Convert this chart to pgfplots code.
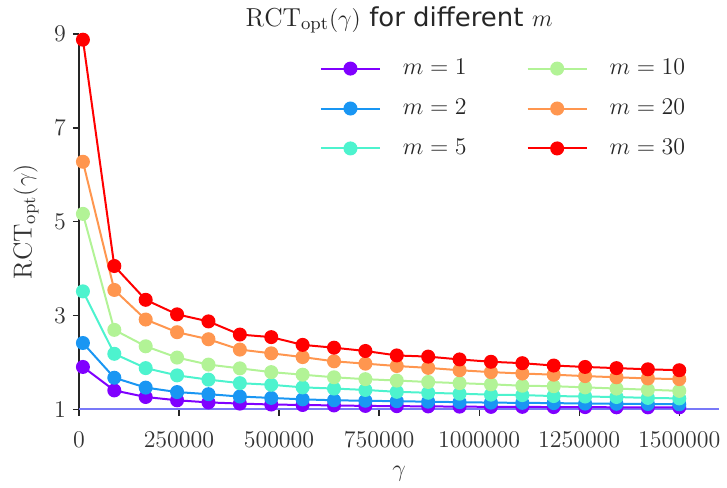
\documentclass[border=0pt]{standalone}
\usepackage{pgfplots}
\usepackage{pgfplotstable}
\usepackage{fontspec}
\pgfplotsset{compat=1.18}
\newfontfamily\dejavu{DejaVu Sans}
\definecolor{c1}{HTML}{8000FF}
\definecolor{c2}{HTML}{1996F3}
\definecolor{c5}{HTML}{4DF3CE}
\definecolor{c10}{HTML}{B2F396}
\definecolor{c20}{HTML}{FF964F}
\definecolor{c30}{HTML}{FF0000}
\definecolor{hl}{HTML}{7878F8}
\pgfplotstableread{
x m1 m2 m5 m10 m20 m30
10000 1.91 2.42 3.52 5.17 6.28 8.88
88421 1.41 1.68 2.19 2.70 3.55 4.06
166842 1.27 1.47 1.885 2.35 2.92 3.34
245263 1.20 1.375 1.73 2.11 2.65 3.03
323684 1.155 1.33 1.64 1.96 2.50 2.88
402105 1.13 1.28 1.565 1.88 2.28 2.60
480526 1.11 1.25 1.53 1.80 2.20 2.545
558947 1.10 1.22 1.475 1.745 2.12 2.38
637368 1.09 1.20 1.45 1.69 2.03 2.32
715789 1.08 1.19 1.42 1.65 1.98 2.25
794211 1.075 1.18 1.38 1.62 1.93 2.155
872632 1.07 1.17 1.36 1.59 1.89 2.13
951053 1.065 1.16 1.34 1.565 1.84 2.07
1029474 1.06 1.15 1.32 1.54 1.80 2.02
1107895 1.06 1.145 1.31 1.51 1.77 1.99
1186316 1.055 1.14 1.29 1.50 1.745 1.94
1264737 1.055 1.13 1.28 1.475 1.715 1.91
1343158 1.05 1.125 1.27 1.45 1.69 1.885
1421579 1.05 1.12 1.25 1.425 1.665 1.86
1500000 1.05 1.115 1.24 1.40 1.65 1.84
}\datatable
\begin{document}
\begin{tikzpicture}
\begin{axis}[
  scale only axis,
  width=320.5pt, height=188pt,
  xmin=0, xmax=1600000, ymin=1, ymax=9,
  axis x line*=bottom, axis y line*=left,
  axis line style={black!85, line width=0.6pt, -},
  tick align=outside,
  major tick length=3pt,
  tick style={black!85, line width=0.6pt},
  xtick={0,250000,500000,750000,1000000,1250000,1500000},
  ytick={1,3,5,7,9},
  scaled x ticks=false,
  xticklabel style={/pgf/number format/fixed, /pgf/number format/1000 sep={}, yshift=-4.5pt},
  ticklabel style={font=\fontsize{13}{15}\selectfont, text=black!80},
  xlabel={$\gamma$},
  ylabel={$\mathrm{RCT}_{\mathrm{opt}}(\gamma)$},
  title={$\mathrm{RCT}_{\mathrm{opt}}(\gamma)$ {\dejavu for different} $m$},
  every axis title/.style={font=\fontsize{13}{15}\selectfont, text=black!85, at={(axis description cs:0.5,1)}, anchor=center, yshift=7pt},
  every axis x label/.style={font=\fontsize{13}{15}\selectfont, text=black!80, at={(axis description cs:0.5,0)}, anchor=center, yshift=-32pt},
  every axis y label/.style={font=\fontsize{13}{15}\selectfont, text=black!80, at={([xshift=-26.5pt]axis description cs:0,0.5)}, rotate=90, anchor=center},
  legend columns=2,
  legend cell align=left,
  legend style={at={(rel axis cs:0.963,0.955)}, anchor=north east, draw=none, fill=none,
    font=\fontsize{13}{15}\selectfont, text=black!85,
    row sep=6.75pt,
    /tikz/every odd column/.append style={column sep=9pt},
    /tikz/every even column/.append style={column sep=28pt}},
  legend image code/.code={\draw[mark repeat=2, mark phase=2] plot coordinates {(0pt,0pt) (14.75pt,0pt) (29.5pt,0pt)};},
  every axis plot/.append style={line width=1pt, mark=*, mark size=3pt},
  clip=false,
]
\addplot[hl, line width=0.8pt, mark=none, forget plot] coordinates {(0,1.012) (1600000,1.012)};
\addplot[c1, mark options={fill=c1, draw=c1}, forget plot] table[x=x, y=m1] {\datatable};
\addplot[c2, mark options={fill=c2, draw=c2}, forget plot] table[x=x, y=m2] {\datatable};
\addplot[c5, mark options={fill=c5, draw=c5}, forget plot] table[x=x, y=m5] {\datatable};
\addplot[c10, mark options={fill=c10, draw=c10}, forget plot] table[x=x, y=m10] {\datatable};
\addplot[c20, mark options={fill=c20, draw=c20}, forget plot] table[x=x, y=m20] {\datatable};
\addplot[c30, mark options={fill=c30, draw=c30}, forget plot] table[x=x, y=m30] {\datatable};
\addlegendimage{c1, line width=1pt, mark=*, mark size=3pt, mark options={fill=c1, draw=c1}}
\addlegendentry{$m=1$}
\addlegendimage{c10, line width=1pt, mark=*, mark size=3pt, mark options={fill=c10, draw=c10}}
\addlegendentry{$m=10$}
\addlegendimage{c2, line width=1pt, mark=*, mark size=3pt, mark options={fill=c2, draw=c2}}
\addlegendentry{$m=2$}
\addlegendimage{c20, line width=1pt, mark=*, mark size=3pt, mark options={fill=c20, draw=c20}}
\addlegendentry{$m=20$}
\addlegendimage{c5, line width=1pt, mark=*, mark size=3pt, mark options={fill=c5, draw=c5}}
\addlegendentry{$m=5$}
\addlegendimage{c30, line width=1pt, mark=*, mark size=3pt, mark options={fill=c30, draw=c30}}
\addlegendentry{$m=30$}
\path (rel axis cs:0,0) ++(-39.5pt,-38.5pt) (rel axis cs:1,1) ++(3.5pt,16.5pt);
\end{axis}
\end{tikzpicture}
\end{document}
